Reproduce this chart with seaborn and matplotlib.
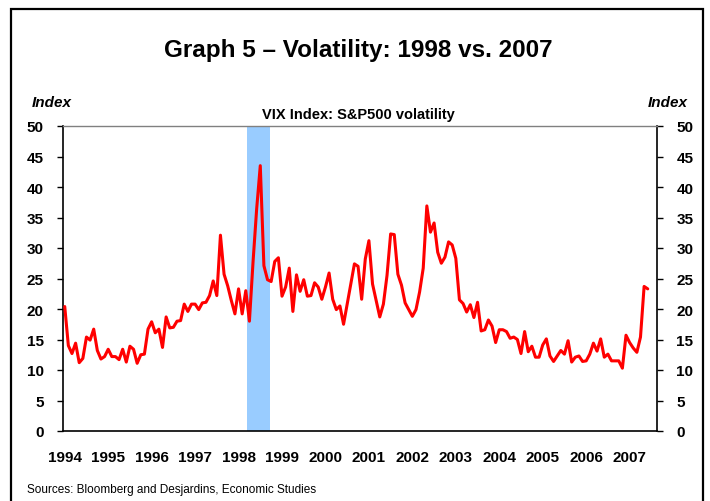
import numpy as np
import pandas as pd
import matplotlib
matplotlib.use("Agg")
import matplotlib.pyplot as plt
from matplotlib.patches import Rectangle
import seaborn as sns

# ---- data (monthly VIX, Jan 1994 onward) ----
vix = [
    20.4, 14.0, 12.7, 14.4, 11.2, 11.9, 15.4, 14.9, 16.7, 13.2, 11.8, 12.2,
    13.4, 12.2, 12.2, 11.7, 13.4, 11.3, 13.9, 13.4, 11.1, 12.5, 12.6, 16.7,
    17.9, 16.1, 16.7, 13.7, 18.7, 16.9, 17.0, 18.0, 18.1, 20.8, 19.6, 20.8,
    20.8, 19.9, 21.0, 21.1, 22.2, 24.6, 22.2, 32.1, 25.7, 23.8, 21.4, 19.2,
    23.3, 19.2, 23.0, 18.0, 27.7, 36.4, 43.5, 27.1, 24.8, 24.5, 27.8, 28.4,
    22.1, 23.6, 26.7, 19.6, 25.6, 22.9, 24.8, 22.1, 22.2, 24.3, 23.6, 21.6,
    23.6, 25.9, 21.6, 19.9, 20.5, 17.5, 20.8, 24.0, 27.4, 27.0, 21.6, 28.2,
    31.2, 24.1, 21.4, 18.7, 20.8, 25.5, 32.3, 32.2, 25.7, 23.9, 21.0, 19.9,
    18.8, 19.9, 22.8, 26.7, 36.9, 32.6, 34.1, 29.3, 27.5, 28.5, 31.0, 30.5,
    28.3, 21.5, 20.9, 19.5, 20.7, 18.6, 21.1, 16.4, 16.6, 18.2, 17.2, 14.5,
    16.6, 16.6, 16.3, 15.2, 15.4, 15.0, 12.7, 16.3, 13.0, 13.9, 12.1, 12.1,
    14.1, 15.1, 12.3, 11.4, 12.3, 13.2, 12.6, 14.8, 11.3, 12.1, 12.3, 11.4,
    11.5, 12.6, 14.4, 13.1, 15.1, 12.1, 12.6, 11.5, 11.5, 11.5, 10.3, 15.7,
    14.5, 13.6, 12.9, 15.4, 23.7, 23.3,
]
start_month = "1994-01-01"
years = list(range(1994, 2008))
year_labels = [str(y) for y in years]
y_ticks = list(range(0, 51, 5))
shade_start, shade_end = 1998.20, 1998.73

title = "Graph 5 \u2013 Volatility: 1998 vs. 2007"
subtitle = "VIX Index: S&P500 volatility"
unit_label = "Index"
source = "Sources: Bloomberg and Desjardins, Economic Studies"

dates = pd.date_range(start_month, periods=len(vix), freq="MS")
df = pd.DataFrame({
    "t": dates.year + (dates.month - 1) / 12.0,
    "vix": vix,
})

sns.set_style("white")
plt.rcParams["font.family"] = ["Liberation Sans Narrow", "Liberation Sans", "DejaVu Sans"]
plt.rcParams["text.color"] = "black"
plt.rcParams["xtick.color"] = "black"
plt.rcParams["ytick.color"] = "black"
plt.rcParams["axes.labelcolor"] = "black"

fig = plt.figure(figsize=(7.10, 5.02), dpi=100)
ax = fig.add_axes([63 / 710, 1 - 432 / 502, (657 - 63) / 710, (432 - 127) / 502])

ax.axvspan(shade_start, shade_end, color="#99CCFF", lw=0, zorder=0)
sns.lineplot(data=df, x="t", y="vix", color="#FF0000", lw=2.2, ax=ax, zorder=3)

ax.set_xlim(1993.96, 2007.63)
ax.set_ylim(0, 50)
ax.set_xticks(years)
ax.set_xticklabels(year_labels, fontsize=11, fontweight="bold", color="black")
ax.set_yticks(y_ticks)
ax.set_yticklabels([str(v) for v in y_ticks], fontsize=11, fontweight="bold", color="black")
ax.tick_params(axis="x", length=0, pad=14, labelcolor="black")
ax.tick_params(axis="y", direction="out", length=4, width=1, color="black",
               labelcolor="black", left=True, right=True,
               labelleft=True, labelright=True, pad=10)
ax.set_xlabel("")
ax.set_ylabel("")
for s in ["left", "right", "bottom"]:
    ax.spines[s].set_color("black")
    ax.spines[s].set_linewidth(1.2)
ax.spines["top"].set_color("#808080")
ax.spines["top"].set_linewidth(1.0)

fig.text(358 / 710, 1 - 50 / 502, title, ha="center", va="center",
         fontsize=17.5, fontweight="bold", color="black")
fig.text(358 / 710, 1 - 115 / 502, subtitle, ha="center", va="center",
         fontsize=10.5, fontweight="bold", color="black")
fig.text(32 / 710, 1 - 103 / 502, unit_label, ha="left", va="center",
         fontsize=11, fontweight="bold", fontstyle="italic", color="black")
fig.text(688 / 710, 1 - 103 / 502, unit_label, ha="right", va="center",
         fontsize=11, fontweight="bold", fontstyle="italic", color="black")
fig.text(27 / 710, 1 - 490 / 502, source, ha="left", va="center",
         fontsize=8.5, color="black")

fig.patches.append(Rectangle((11 / 710, -0.05), (703 - 11) / 710, 1 - 10 / 502 + 0.05,
                             transform=fig.transFigure, fill=False,
                             edgecolor="black", lw=1.6))

fig.savefig("out.png", dpi=100)
